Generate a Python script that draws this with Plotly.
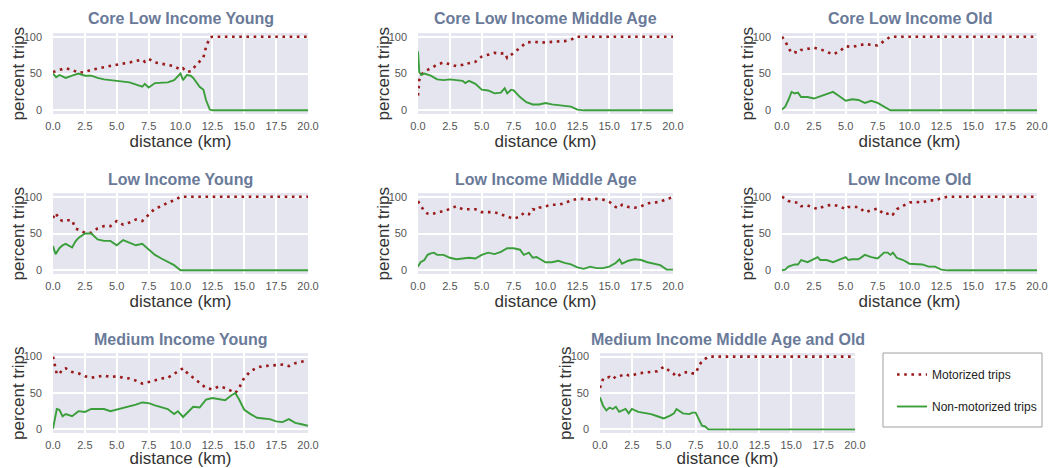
import plotly.graph_objects as go

W, H = 1049, 468

titles = [
    "Core Low Income Young", "Core Low Income Middle Age", "Core Low Income Old",
    "Low Income Young", "Low Income Middle Age", "Low Income Old",
    "Medium Income Young", "Medium Income Middle Age and Old",
]

# Panel 1: Core Low Income Young
dist1 = [0, 0.25, 0.5, 1, 1.5, 2, 2.5, 3, 3.5, 4, 5, 6, 7, 7.2, 7.5, 8, 9, 9.5, 10, 10.2, 10.5, 10.8, 11, 11.5, 11.8, 12, 12.3, 12.5, 20]
nonmot1 = [50, 45, 48, 44, 47, 50, 47, 47, 44, 42, 40, 38, 32, 36, 31, 37, 38, 41, 50, 41, 48, 47, 44, 32, 28, 14, 1, 0, 0]
mot1 = [52, 54, 55, 57, 55, 51, 52, 55, 57, 58, 62, 65, 69, 66, 70, 65, 62, 60, 55, 57, 52, 53, 57, 66, 72, 86, 99, 100, 100]

# Panel 2: Core Low Income Middle Age
dist2 = [0, 0.1, 0.25, 0.5, 1, 1.5, 2, 2.5, 3, 3.5, 3.7, 4, 4.5, 5, 5.5, 6, 6.5, 6.8, 7, 7.3, 7.5, 8, 8.5, 9, 9.5, 10, 10.5, 11, 11.5, 12, 12.5, 13, 20]
nonmot2 = [80, 52, 48, 50, 47, 42, 41, 42, 41, 40, 37, 40, 36, 28, 27, 23, 24, 30, 23, 28, 27, 18, 11, 8, 8, 10, 8, 7, 6, 5, 1, 0, 0]
mot2 = [20, 41, 48, 53, 57, 62, 65, 63, 60, 62, 64, 64, 66, 73, 76, 78, 77, 78, 71, 76, 78, 85, 92, 93, 92, 92, 93, 93, 94, 96, 100, 100, 100]

# Panel 3: Core Low Income Old
dist3 = [0, 0.25, 0.5, 0.75, 1, 1.25, 1.5, 2, 2.5, 3, 3.5, 4, 4.5, 5, 5.5, 6, 6.5, 7, 7.5, 8, 8.5, 20]
nonmot3 = [1, 5, 14, 25, 23, 24, 18, 18, 16, 19, 21, 25, 19, 13, 15, 14, 10, 13, 10, 5, 0, 0]
mot3 = [100, 94, 85, 78, 79, 78, 82, 83, 85, 83, 80, 76, 80, 87, 86, 88, 90, 89, 88, 94, 100, 100]

# Panel 4: Low Income Young
dist4 = [0, 0.2, 0.5, 0.75, 1, 1.5, 1.75, 2, 2.5, 3, 3.5, 4, 4.5, 5, 5.5, 6, 6.5, 7, 7.5, 8, 8.5, 9, 9.5, 10, 20]
nonmot4 = [33, 22, 30, 34, 36, 31, 39, 44, 50, 50, 42, 40, 40, 34, 41, 37, 34, 36, 28, 21, 16, 11, 7, 0, 0]
mot4 = [71, 78, 69, 67, 68, 68, 57, 55, 51, 51, 57, 60, 60, 67, 62, 65, 69, 67, 76, 84, 87, 92, 95, 100, 100]

# Panel 5: Low Income Middle Age
dist5 = [0, 0.2, 0.5, 0.75, 1, 1.25, 1.5, 2, 2.5, 3, 3.5, 4, 4.5, 5, 5.5, 6, 6.5, 7, 7.5, 8,
         8.3, 8.7, 9, 9.3, 9.5, 10, 10.5, 11, 11.5, 12, 12.5, 13, 13.5, 14, 14.5, 15, 15.5, 15.8, 16, 16.5,
         17, 17.5, 18, 18.5, 19, 19.5, 20]
nonmot5 = [5, 11, 14, 21, 23, 24, 21, 21, 17, 15, 16, 17, 16, 21, 24, 22, 25, 30, 30, 28,
           21, 24, 17, 18, 16, 11, 11, 13, 10, 8, 4, 2, 5, 3, 3, 5, 10, 15, 9, 13,
           15, 14, 11, 9, 7, 1, 1]
mot5 = [94, 88, 80, 77, 76, 77, 79, 80, 83, 87, 83, 83, 83, 79, 79, 79, 76, 73, 70, 73,
        78, 76, 83, 82, 85, 87, 89, 89, 91, 95, 97, 97, 96, 97, 96, 93, 86, 85, 89, 86,
        85, 87, 91, 92, 93, 97, 99]

# Panel 6: Low Income Old
dist6 = [0, 0.25, 0.5, 1, 1.25, 1.5, 2, 2.5, 2.8, 3, 3.5, 4, 4.5, 5, 5.2, 5.5, 6, 6.5, 7, 7.5,
         8, 8.3, 8.5, 8.7, 9, 9.5, 10, 10.5, 11, 11.5, 12, 12.5, 13, 20]
nonmot6 = [0, 1, 5, 8, 8, 14, 11, 15, 18, 14, 14, 11, 14, 18, 14, 15, 15, 21, 18, 16,
           24, 24, 21, 24, 17, 14, 9, 8, 8, 5, 5, 1, 0, 0]
mot6 = [100, 97, 94, 92, 92, 87, 88, 85, 83, 85, 88, 89, 87, 83, 86, 86, 86, 79, 82, 84,
        76, 77, 79, 76, 83, 87, 92, 93, 92, 95, 95, 98, 100, 100]

# Panel 7: Medium Income Young
dist7 = [0, 0.15, 0.3, 0.5, 0.75, 1, 1.5, 2, 2.5, 3, 3.5, 4, 4.5, 5, 5.5, 6, 6.5, 7, 7.5, 8,
         8.5, 9, 9.5, 9.8, 10.2, 10.5, 11, 11.5, 12, 12.5, 13, 13.5, 14, 14.3, 14.6, 15, 15.5, 16, 16.5, 17,
         17.5, 18, 18.5, 19, 19.5, 20]
nonmot7 = [1, 16, 28, 27, 18, 21, 18, 25, 24, 28, 28, 28, 25, 27, 30, 31, 34, 37, 36, 33,
           30, 28, 21, 25, 17, 22, 31, 30, 41, 43, 41, 40, 47, 50, 41, 27, 21, 16, 15, 14,
           11, 10, 14, 9, 7, 5]
mot7 = [100, 87, 76, 76, 83, 84, 79, 77, 73, 71, 72, 74, 72, 73, 71, 70, 67, 63, 65, 68,
        70, 71, 76, 79, 84, 78, 71, 64, 57, 55, 59, 57, 52, 50, 57, 71, 80, 85, 87, 88,
        89, 89, 87, 91, 93, 95]

# Panel 8: Medium Income Middle Age and Old
dist8 = [0, 0.25, 0.5, 0.75, 1, 1.25, 1.5, 2, 2.25, 2.5, 3, 3.5, 4, 4.5, 5, 5.5, 5.8, 6, 6.5, 7,
         7.25, 7.5, 7.75, 8, 8.25, 8.5, 20]
nonmot8 = [44, 32, 26, 30, 28, 31, 24, 28, 22, 28, 24, 23, 21, 18, 15, 19, 22, 28, 22, 21,
           23, 23, 14, 5, 4, 0, 0]
mot8 = [57, 70, 71, 72, 69, 73, 73, 76, 74, 74, 77, 78, 80, 80, 86, 80, 76, 72, 78, 79,
        77, 77, 87, 94, 97, 100, 100]

x_ticks = [0, 2.5, 5, 7.5, 10, 12.5, 15, 17.5, 20]
y_ticks = [0, 50, 100]

panels = [
    (dist1, nonmot1, mot1), (dist2, nonmot2, mot2), (dist3, nonmot3, mot3),
    (dist4, nonmot4, mot4), (dist5, nonmot5, mot5), (dist6, nonmot6, mot6),
    (dist7, nonmot7, mot7), (dist8, nonmot8, mot8),
]

# pixel boxes of the plot areas (left, right, top, bottom)
cols = [(53, 308), (418, 673), (782, 1037)]
rows = [(33, 114), (193, 274), (353, 433)]
boxes = [
    cols[0] + rows[0], cols[1] + rows[0], cols[2] + rows[0],
    cols[0] + rows[1], cols[1] + rows[1], cols[2] + rows[1],
    cols[0] + rows[2], (600, 855) + rows[2],
]

MOT_COLOR = "#9a1a1a"
NON_COLOR = "#3a9e3a"
FONT = "Liberation Sans, Arial, sans-serif"

fig = go.Figure()
layout = dict(
    width=W, height=H,
    margin=dict(l=0, r=0, t=0, b=0, autoexpand=False),
    paper_bgcolor="white",
    plot_bgcolor="#e4e5ef",
    font=dict(family=FONT),
    showlegend=True,
    annotations=[],
    shapes=[],
)

for i, ((d, non, mot), (l, r, t, b), title) in enumerate(zip(panels, boxes, titles), start=1):
    xa = "x" if i == 1 else f"x{i}"
    ya = "y" if i == 1 else f"y{i}"
    fig.add_trace(go.Scatter(
        x=d, y=mot, mode="lines", name="Motorized trips",
        line=dict(color=MOT_COLOR, width=2.6, dash="2.6px,4.6px"),
        xaxis=xa, yaxis=ya, legendgroup="mot", showlegend=(i == 8),
    ))
    fig.add_trace(go.Scatter(
        x=d, y=non, mode="lines", name="Non-motorized trips",
        line=dict(color=NON_COLOR, width=1.9),
        xaxis=xa, yaxis=ya, legendgroup="non", showlegend=(i == 8),
    ))
    layout[f"xaxis{i}"] = dict(
        domain=[l / W, r / W], anchor=ya, range=[0, 20],
        tickvals=x_ticks, tickformat=".1f", automargin=False,
        showgrid=True, gridcolor="white", gridwidth=1.6,
        zeroline=False, showline=False, ticks="",
        tickfont=dict(size=11, color="#555555"),
        ticklabelstandoff=4,
        title=dict(text="distance (km)", font=dict(size=17, color="#333333"), standoff=1),
    )
    layout[f"yaxis{i}"] = dict(
        domain=[1 - b / H, 1 - t / H], anchor=xa, range=[-5, 105],
        tickvals=y_ticks, automargin=False,
        showgrid=True, gridcolor="white", gridwidth=1.6,
        zeroline=False, showline=False, ticks="",
        tickfont=dict(size=11, color="#555555"),
        ticklabelstandoff=10,
    )
    # y-axis title as rotated text
    layout["annotations"].append(dict(
        text="percent trips", xref="paper", yref="paper",
        x=(l - 35) / W, y=1 - (t + b) / 2 / H, xanchor="center", yanchor="middle",
        textangle=-90, showarrow=False, font=dict(size=17, color="#333333", family=FONT),
    ))
    layout["annotations"].append(dict(
        text=f"<b>{title}</b>", xref="paper", yref="paper",
        x=(l + r) / 2 / W, y=1 - (t - 14) / H, xanchor="center", yanchor="middle",
        showarrow=False, font=dict(size=16, color="#6a7a99", family=FONT),
    ))

# legend frame
layout["shapes"].append(dict(
    type="rect", xref="paper", yref="paper",
    x0=883 / W, x1=1042 / W, y0=1 - 427 / H, y1=1 - 353 / H,
    line=dict(color="#a0a0a0", width=1), fillcolor="white", layer="below",
))

layout["legend"] = dict(
    x=892 / W, y=1 - 360 / H, xanchor="left", yanchor="top",
    bgcolor="rgba(0,0,0,0)", borderwidth=0,
    font=dict(size=12, color="#222222", family=FONT),
    traceorder="grouped", tracegroupgap=13,
)

fig.update_layout(**layout)
fig.write_html("out.html")
